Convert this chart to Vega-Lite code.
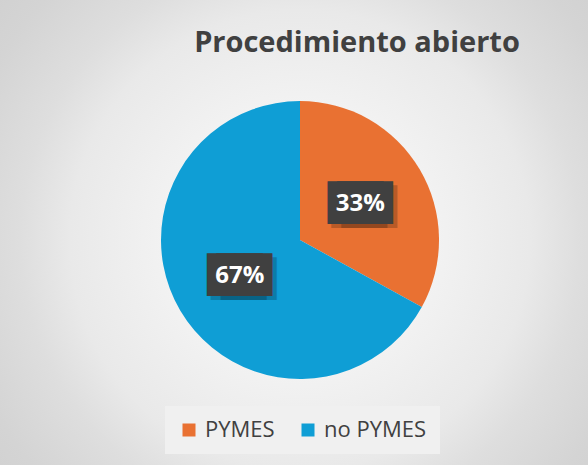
{
  "$schema": "https://vega.github.io/schema/vega-lite/v6.json",
  "width": 576,
  "height": 450,
  "autosize": "none",
  "padding": {"left": 12, "top": 15, "right": 0, "bottom": 0},
  "background": "#f6f6f6",
  "config": {"view": {"stroke": null}},
  "title": {
    "text": "Procedimiento abierto",
    "anchor": "middle",
    "frame": "group",
    "dx": 57,
    "offset": -218,
    "fontSize": 29,
    "font": "Open Sans",
    "fontWeight": "bold",
    "color": "#404040"
  },
  "layer": [
    {
      "data": {"values": [{"bg": 1}]},
      "mark": {
        "type": "arc",
        "theta": 0,
        "theta2": 6.2832,
        "outerRadius": 400,
        "fill": {
          "gradient": "radial",
          "x1": 0.5, "y1": 0.5, "r1": 0,
          "x2": 0.5, "y2": 0.5, "r2": 0.5,
          "stops": [
            {"offset": 0, "color": "#ffffff"},
            {"offset": 0.575, "color": "#e9e9e9"},
            {"offset": 0.7, "color": "#dedede"},
            {"offset": 0.875, "color": "#d4d4d4"},
            {"offset": 1, "color": "#d0d0d0"}
          ]
        }
      }
    },
    {
      "data": {
        "values": [
          {"category": "PYMES", "value": 33, "label": "33%"},
          {"category": "no PYMES", "value": 67, "label": "67%"}
        ]
      },
      "encoding": {
        "theta": {"field": "value", "type": "quantitative", "stack": true},
        "order": {"field": "value", "type": "quantitative", "sort": "ascending"}
      },
      "layer": [
        {
          "mark": {"type": "arc", "outerRadius": 139},
          "encoding": {
            "color": {
              "field": "category",
              "type": "nominal",
              "scale": {"domain": ["PYMES", "no PYMES"], "range": ["#E97132", "#0F9ED5"]},
              "legend": {
                "title": null,
                "orient": "none",
                "legendX": 153,
                "legendY": 391,
                "direction": "horizontal",
                "symbolType": "square",
                "symbolSize": 169,
                "symbolStrokeWidth": 0,
                "labelFontSize": 22,
                "labelFont": "Open Sans",
                "labelColor": "#404040",
                "labelOffset": 5,
                "columnPadding": 22,
                "padding": 13,
                "fillColor": "#f0f0f0"
              }
            }
          }
        },
        {
          "mark": {"type": "text", "radius": 70, "font": "DejaVu Sans", "fontSize": 36, "baseline": "middle", "align": "center", "dx": -1, "dy": 4, "fill": "#000000", "opacity": 0.2},
          "encoding": {"text": {"value": "██"}}
        },
        {
          "mark": {"type": "text", "radius": 70, "font": "DejaVu Sans", "fontSize": 36, "baseline": "middle", "align": "center", "dx": 9, "dy": 4, "fill": "#000000", "opacity": 0.2},
          "encoding": {"text": {"value": "██"}}
        },
        {
          "mark": {"type": "text", "radius": 70, "font": "DejaVu Sans", "fontSize": 36, "baseline": "middle", "align": "center", "dx": -4.8, "fill": "#404040"},
          "encoding": {"text": {"value": "██"}}
        },
        {
          "mark": {"type": "text", "radius": 70, "font": "DejaVu Sans", "fontSize": 36, "baseline": "middle", "align": "center", "dx": 4.8, "fill": "#404040"},
          "encoding": {"text": {"value": "██"}}
        },
        {
          "mark": {"type": "text", "radius": 70, "font": "Open Sans", "fontSize": 24, "fontWeight": "bold", "baseline": "middle", "align": "center", "fill": "#ffffff"},
          "encoding": {"text": {"field": "label"}}
        }
      ]
    }
  ]
}
